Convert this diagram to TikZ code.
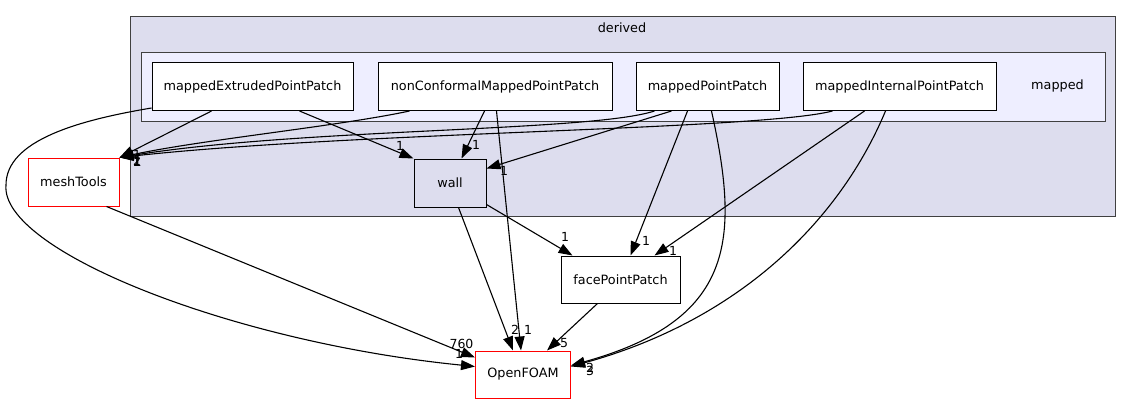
\documentclass[tikz,border=0pt]{standalone}
\usepackage{fontspec}
\setmainfont{DejaVu Sans}
\usetikzlibrary{arrows.meta,calc}
\definecolor{clA}{HTML}{DDDDEE}
\definecolor{clB}{HTML}{EEEEFF}
\definecolor{bord}{HTML}{404040}
\begin{document}
\begin{tikzpicture}[x=1pt,y=-1pt,
  cluster/.style={draw=bord, line width=1.2pt, inner sep=0pt, anchor=north west},
  box/.style={draw=black, fill=white, line width=1pt, minimum height=48pt, inner sep=0pt,
    font=\fontsize{12.8}{15}\selectfont},
  redbox/.style={box, draw=red},
  ctext/.style={font=\fontsize{12.8}{15}\selectfont, inner sep=0pt},
  lbl/.style={font=\fontsize{12.5}{14}\selectfont, inner sep=0pt},
  dep/.style={line width=1.1pt, -{Triangle[length=14pt,width=10pt]}},
]
\useasboundingbox (0,0) rectangle (1133,404);
% clusters
\node[cluster, fill=clA, minimum width=985pt, minimum height=200pt] (derived) at (130,16) {};
\node[ctext] (derivedlbl) at (622,28) {derived};
\node[cluster, fill=clB, minimum width=964pt, minimum height=69pt] (mapped) at (141,52) {};
\node[ctext] (mappedlbl) at (1057.5,86) {mapped};
% nodes
\node[box, minimum width=201pt] (mep) at (252.5,86.5) {mappedExtrudedPointPatch};
\node[box, minimum width=234pt] (ncm) at (495,86.5) {nonConformalMappedPointPatch};
\node[box, minimum width=143pt] (mpp) at (707.5,86.5) {mappedPointPatch};
\node[box, minimum width=193pt] (mip) at (899.5,86.5) {mappedInternalPointPatch};
\node[box, fill=clA, minimum width=72pt] (wall) at (450,183) {wall};
\node[redbox, minimum width=91pt] (mt) at (73.5,182) {meshTools};
\node[box, minimum width=119pt, minimum height=47pt] (fpp) at (620.5,279.5) {facePointPatch};
\node[redbox, minimum width=95pt, minimum height=47pt] (of) at (523,374.5) {OpenFOAM};
% edges into meshTools
\draw[dep] ($(mep.south west)+(60,0)$) -- (mt.north east);
\draw[dep] ($(ncm.south west)+(32,0)$) .. controls (340,126) and (200,140) .. (mt.north east);
\draw[dep] ($(mpp.south west)+(19,0)$) .. controls (590,132) and (300,128) .. (mt.north east);
\draw[dep] ($(mip.south west)+(30,0)$) .. controls (760,130) and (350,132) .. (mt.north east);
% edges into wall
\draw[dep] ($(mep.south west)+(148,0)$) -- (wall.north west);
\draw[dep] ($(ncm.south west)+(107,0)$) -- ($(wall.north west)+(48,0)$);
\draw[dep] ($(mpp.south west)+(36,0)$) -- ($(wall.north east)+(0,10)$);
% edges into facePointPatch
\draw[dep] ($(wall.south east)+(0,-3)$) -- ($(fpp.north west)+(12,0)$);
\draw[dep] ($(mpp.south west)+(52,0)$) -- ($(fpp.north west)+(70,0)$);
\draw[dep] ($(mip.south west)+(62,0)$) -- ($(fpp.north west)+(94,0)$);
% edges into OpenFOAM
\draw[dep] ($(mep.south west)+(0,-3)$) .. controls (80,120) and (6,140) .. (6,185)
  .. controls (0,250) and (230,342) .. ($(of.west)+(0,-8)$);
\draw[dep] ($(mt.south east)+(-13,0)$) -- ($(of.west)+(0,-17)$);
\draw[dep] ($(wall.south west)+(45,0)$) -- ($(of.north west)+(38,0)$);
\draw[dep] ($(ncm.south west)+(119,0)$) -- ($(of.north west)+(46,0)$);
\draw[dep] ($(fpp.south west)+(37,0)$) -- ($(of.north west)+(72,0)$);
\draw[dep] ($(mpp.south west)+(76,0)$) .. controls (740,240) and (735,320) .. ($(of.east)+(0,-9)$);
\draw[dep] ($(mip.south west)+(83,0)$) .. controls (840,220) and (740,320) .. ($(of.east)+(0,-8)$);
% labels
\node[lbl] (l1) at (137,155) {1};
\node[lbl] (l2) at (137,161) {2};
\node[lbl] (l3) at (137.5,162) {1};
\node[lbl] (l4) at (136.5,162) {1};
\node[lbl] (l5) at (400,146) {1};
\node[lbl] (l6) at (476,145) {1};
\node[lbl] (l7) at (504,171) {1};
\node[lbl] (l8) at (565,237) {1};
\node[lbl] (l9) at (646,241) {1};
\node[lbl] (l10) at (673,251) {1};
\node[lbl] (l11) at (461.5,343.5) {760};
\node[lbl] (l12) at (459,354) {1};
\node[lbl] (l13) at (515,330) {2};
\node[lbl] (l14) at (528,330) {1};
\node[lbl] (l15) at (564,343) {5};
\node[lbl] (l16) at (590,368) {2};
\node[lbl] (l17) at (590,371) {3};
\end{tikzpicture}
\end{document}
